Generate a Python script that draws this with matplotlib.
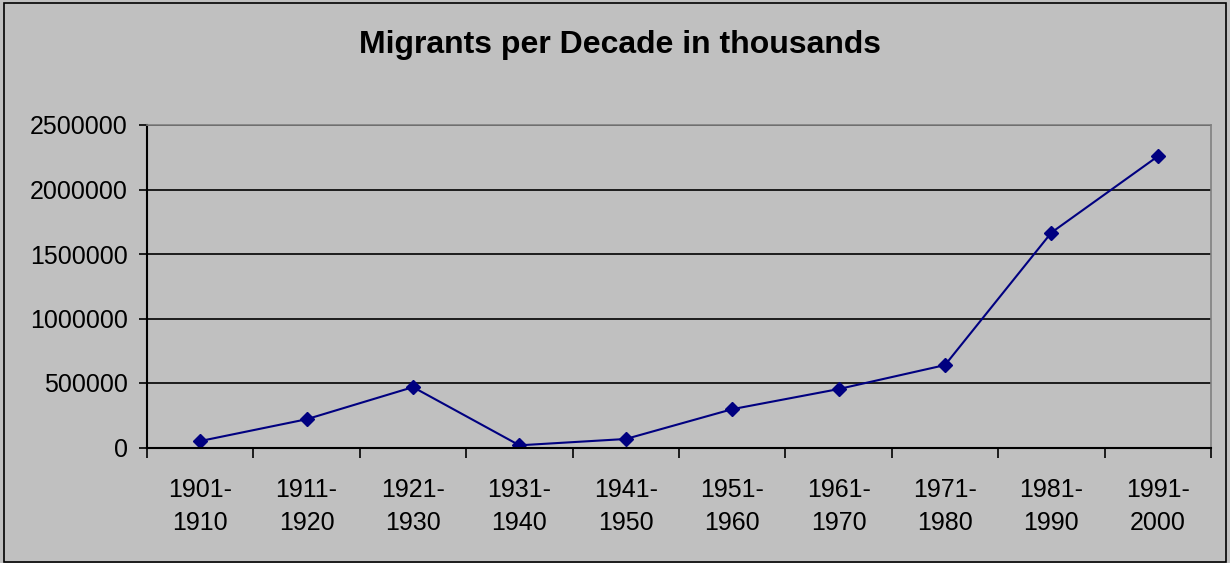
import matplotlib.pyplot as plt
from matplotlib.patches import Rectangle

# decades and migrants
decades = ['1901-\n1910', '1911-\n1920', '1921-\n1930', '1931-\n1940', '1941-\n1950',
           '1951-\n1960', '1961-\n1970', '1971-\n1980', '1981-\n1990', '1991-\n2000']
migrants = [50000, 219000, 468000, 17000, 66000, 297000, 453000, 639000, 1666000, 2257000]
y_ticks = [0, 500000, 1000000, 1500000, 2000000, 2500000]

bg = '#C0C0C0'
plt.rcParams['font.family'] = ['Liberation Sans', 'DejaVu Sans']

fig = plt.figure(figsize=(12.3, 5.63), dpi=100, facecolor=bg)
ax = fig.add_axes([147 / 1230, 115.5 / 563, 1064 / 1230, 322.5 / 563])
ax.set_facecolor(bg)

# outer chart border
fig.patches.append(Rectangle((4 / 1230, 1.5 / 563), 1222 / 1230, 559 / 563,
                             transform=fig.transFigure, fill=False,
                             edgecolor='black', linewidth=1.2))

x = list(range(len(decades)))
ax.plot(x, migrants, color='#000080', linewidth=1.5, marker='D', markersize=7.5,
        markerfacecolor='#000080', markeredgecolor='#000080')

ax.set_xlim(-0.5, len(decades) - 0.5)
ax.set_ylim(0, 2500000)
ax.set_yticks(y_ticks)
ax.set_yticklabels([str(v) for v in y_ticks])
for v in y_ticks[1:]:
    ax.axhline(v, color='black', linewidth=1.2, zorder=0)

# category ticks sit between the labels
ax.set_xticks([i - 0.5 for i in range(len(decades) + 1)])
ax.set_xticklabels([])
ax.set_xticks(x, minor=True)
ax.set_xticklabels(decades, minor=True, fontsize=18, linespacing=1.45)
ax.tick_params(axis='x', which='minor', length=0, pad=22)
ax.tick_params(axis='x', which='major', length=7, width=1.2, direction='out')
ax.tick_params(axis='y', length=6, width=1.2, direction='out', labelsize=18, pad=8)

for side in ['top', 'right']:
    ax.spines[side].set_color('#808080')
    ax.spines[side].set_linewidth(1.2)
for side in ['left', 'bottom']:
    ax.spines[side].set_color('black')
    ax.spines[side].set_linewidth(1.5)

fig.text(620 / 1230, 1 - 45 / 563, 'Migrants per Decade in thousands',
         ha='center', va='center', fontsize=23, fontweight='bold')

fig.savefig('out.png', dpi=100, facecolor=bg)
